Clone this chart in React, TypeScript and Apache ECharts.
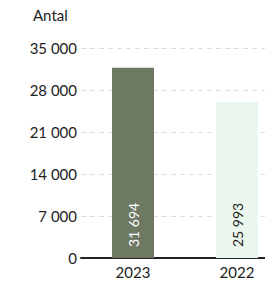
import React, { useEffect, useRef } from "react";
import * as echarts from "echarts";

const categories = ["2023", "2022"];
const values = [31694, 25993];
const barColors = ["#6e7964", "#eaf7ec"];
const labelColors = ["#ffffff", "#222222"];
const yTicks = { min: 0, max: 35000, interval: 7000 };
const yName = "Antal";

const fmt = (v: number) => String(v).replace(/\B(?=(\d{3})+(?!\d))/g, " ");

export default function App() {
  const ref = useRef<HTMLDivElement>(null);
  useEffect(() => {
    const chart = echarts.init(ref.current!, undefined, { renderer: "svg" });
    const font = "Lato, 'Noto Sans', sans-serif";
    chart.setOption({
      animation: false,
      title: {
        text: yName,
        left: 28,
        top: 2,
        textStyle: { fontSize: 15, fontWeight: "normal", color: "#222", fontFamily: font },
      },
      grid: { left: 81, right: 0, top: 48, bottom: 25 },
      xAxis: {
        type: "category",
        data: categories,
        axisLine: { lineStyle: { color: "#222", width: 2 } },
        axisTick: { show: false },
        axisLabel: { color: "#222", fontSize: 15, fontFamily: font, margin: 6 },
      },
      yAxis: {
        type: "value",
        min: yTicks.min,
        max: yTicks.max,
        interval: yTicks.interval,
        axisLine: { show: false },
        axisTick: { show: false },
        axisLabel: { color: "#222", fontSize: 15, fontFamily: font, margin: 4, formatter: (v: number) => fmt(v) },
        splitLine: { lineStyle: { color: "#dddddd", type: [5, 4] } },
      },
      series: [
        {
          type: "bar",
          barWidth: 42,
          data: values.map((v, i) => ({
            value: v,
            itemStyle: { color: barColors[i] },
            label: { color: labelColors[i] },
          })),
          label: {
            show: true,
            position: "insideBottom",
            rotate: 90,
            align: "left",
            verticalAlign: "middle",
            distance: 11,
            fontSize: 14,
            fontFamily: font,
            formatter: (p: any) => fmt(p.value),
          },
        },
      ],
    });
    return () => chart.dispose();
  }, []);
  return (
    <div style={{ position: "absolute", left: 0, top: 0, width: 265, height: 283, overflow: "hidden" }}>
      <div ref={ref} style={{ width: 289, height: 283 }} />
    </div>
  );
}
